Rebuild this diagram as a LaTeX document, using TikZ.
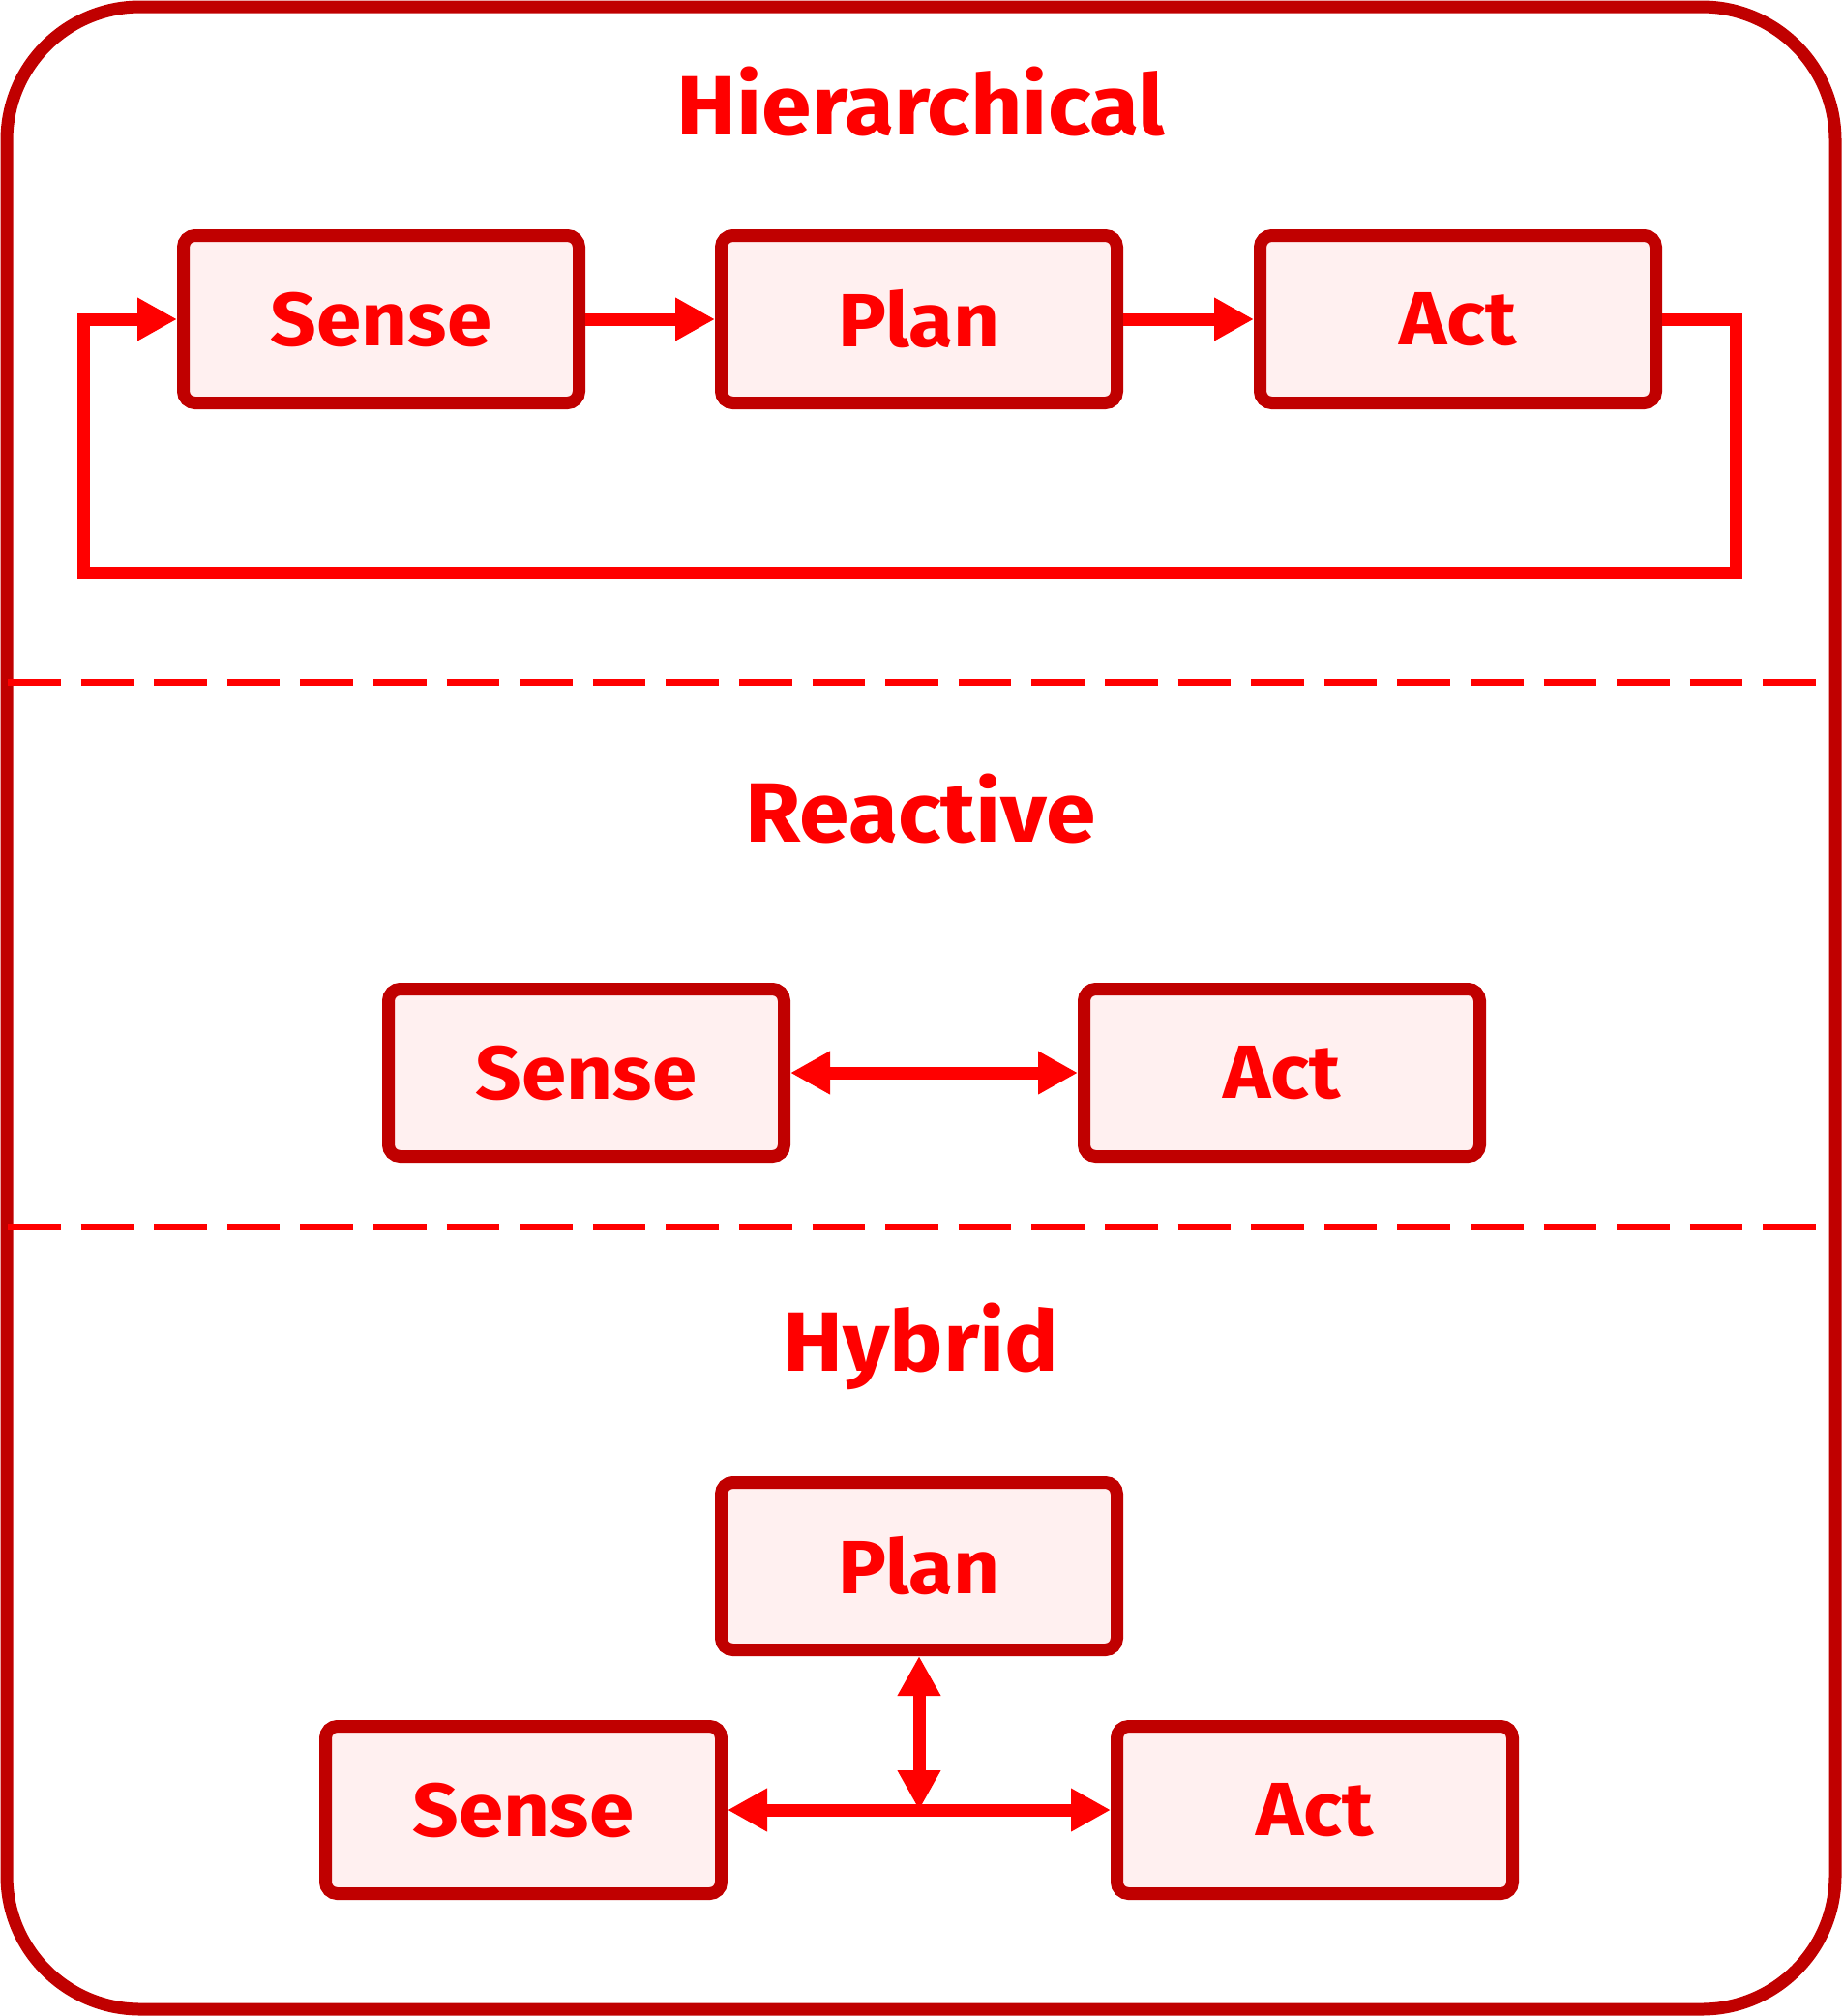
\documentclass[tikz,border=0pt]{standalone}
\usepackage{fontspec}
\setmainfont{Fira Sans}[FakeStretch=1.07]
\definecolor{rbframe}{RGB}{192,0,0}
\definecolor{rbred}{RGB}{255,0,0}
\definecolor{rbfill}{RGB}{255,240,240}
\usetikzlibrary{arrows.meta}

\begin{document}
\begin{tikzpicture}[
  mbox/.style={rectangle, rounded corners=0.12cm, draw=rbframe, line width=0.13cm,
               fill=rbfill, minimum width=4.09cm, minimum height=1.73cm,
               font=\fontsize{22.2pt}{26pt}\selectfont\bfseries, text=rbred},
  sectitle/.style={anchor=base, font=\fontsize{24.75pt}{30pt}\selectfont\bfseries, text=rbred},
  frame/.style={draw=rbframe, line width=0.13cm, rounded corners=1.38cm},
  divider/.style={draw=rbred, line width=0.07cm, dash pattern=on 0.545cm off 0.211cm},
  arr/.style={-{Triangle[length=0.41cm, width=0.42cm]}, line width=0.13cm, draw=rbred},
  darr/.style={{Triangle[length=0.41cm, width=0.42cm]}-{Triangle[length=0.41cm, width=0.42cm]},
               line width=0.13cm, draw=rbred}
]
\useasboundingbox (0,0) rectangle (19.04,-20.84);

% Outer frame and dividers
\draw[frame] (0.07,-0.07) rectangle (18.97,-20.77);
\draw[divider] (0.08,-7.05) -- (18.77,-7.05);
\draw[divider] (0.08,-12.68) -- (18.77,-12.68);

% Hierarchical
\node[sectitle] (thier) at (9.52,-1.39) {Hierarchical};
\node[mbox] (hsense) at ( 3.94,-3.30) {Sense};
\node[mbox] (hplan)  at ( 9.50,-3.30) {Plan};
\node[mbox] (hact)   at (15.07,-3.30) {Act};

\coordinate (loopR) at (17.94,-5.92);
\coordinate (loopL) at ( 0.86,-5.92);

\draw[arr] (hsense.east) -- (hplan.west);
\draw[arr] (hplan.east)  -- (hact.west);
\draw[arr] (hact.east) -| (loopR) -- (loopL) |- (hsense.west);

% Reactive
\node[sectitle] (treact) at (9.52,-8.70) {Reactive};
\node[mbox] (rsense) at ( 6.06,-11.09) {Sense};
\node[mbox] (ract)   at (13.25,-11.09) {Act};

\draw[darr] (rsense.east) -- (ract.west);

% Hybrid
\node[sectitle] (thyb) at (9.52,-14.17) {Hybrid};
\node[mbox] (yplan)  at ( 9.50,-16.19) {Plan};
\node[mbox] (ysense) at ( 5.41,-18.71) {Sense};
\node[mbox] (yact)   at (13.59,-18.71) {Act};

\coordinate (yjoin) at (yplan.south |- ysense.east);

\draw[darr] (ysense.east) -- (yact.west);
\draw[darr] (yplan.south) -- (yjoin);
\end{tikzpicture}
\end{document}
